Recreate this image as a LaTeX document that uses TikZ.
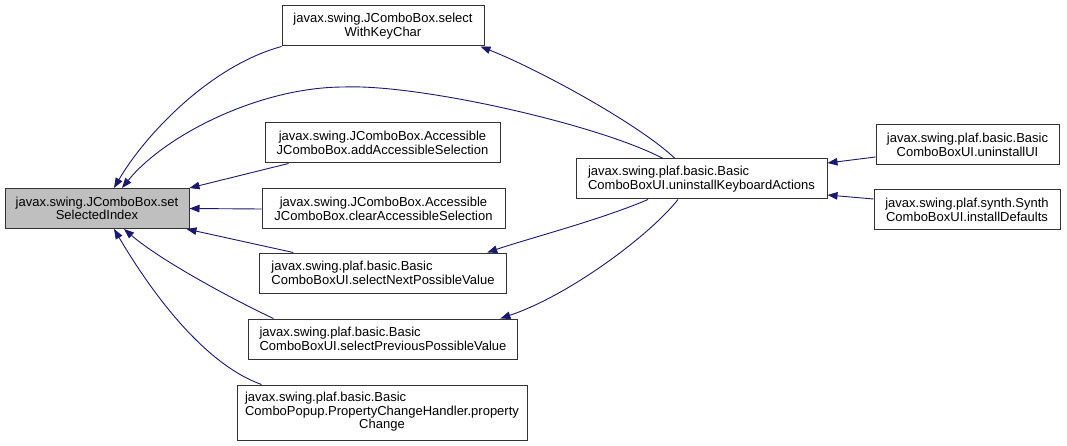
\documentclass[tikz,border=0pt]{standalone}
\usepackage{fontspec}
\setmainfont{Liberation Sans}
\usetikzlibrary{arrows.meta}
\definecolor{edgecol}{HTML}{191970}
\definecolor{setgray}{HTML}{BFBFBF}
\begin{document}
\begin{tikzpicture}[x=1pt,y=-1pt,
  box/.style={draw=black!80, line width=1pt, fill=white, inner sep=0pt,
    font=\fontsize{13}{13.5}\selectfont, minimum height=40pt},
  cbox/.style={box, align=center},
  lbox/.style={box, align=left},
  edge/.style={draw=edgecol, line width=0.9pt, -{Triangle[length=10pt,width=7.5pt]}}]
\useasboundingbox (0,0) rectangle (1067,446);
\fill[white] (0,0) rectangle (1067,446);

\node[cbox, minimum width=184pt, fill=setgray] (set) at (97,208.5) {javax.swing.JComboBox.set\\SelectedIndex};
\node[cbox, minimum width=202pt] (kc) at (383,26) {javax.swing.JComboBox.select\\WithKeyChar};
\node[cbox, minimum width=235pt] (add) at (382.5,143) {javax.swing.JComboBox.Accessible\\JComboBox.addAccessibleSelection};
\node[cbox, minimum width=243pt] (clr) at (383.5,209) {javax.swing.JComboBox.Accessible\\JComboBox.clearAccessibleSelection};
\node[lbox, minimum width=246.5pt] (nxt) at (383,273) {javax.swing.plaf.basic.Basic\\ComboBoxUI.selectNextPossibleValue};
\node[lbox, minimum width=269pt] (prv) at (383,339) {javax.swing.plaf.basic.Basic\\ComboBoxUI.selectPreviousPossibleValue};
\node[box, minimum width=290pt, minimum height=55pt] (pch) at (382,412.5) {\begin{tabular}{@{}l@{}}javax.swing.plaf.basic.Basic\\ComboPopup.PropertyChangeHandler.property\\\multicolumn{1}{@{}c@{}}{Change}\end{tabular}};
\node[lbox, minimum width=251pt] (uka) at (701.5,179) {javax.swing.plaf.basic.Basic\\ComboBoxUI.uninstallKeyboardActions};
\node[cbox, minimum width=183pt] (uui) at (967.5,145) {javax.swing.plaf.basic.Basic\\ComboBoxUI.uninstallUI};
\node[cbox, minimum width=186pt] (ind) at (967,210) {javax.swing.plaf.synth.Synth\\ComboBoxUI.installDefaults};

\draw[edge] (kc.south west) .. controls (210,66) and (145,135) .. ([xshift=17pt]set.north);
\draw[edge] ([xshift=-38.5pt]uka.north) .. controls (600,125) and (420,84) .. (344,87)
  .. controls (260,87) and (165,135) .. ([xshift=25pt]set.north);
\draw[edge] ([xshift=24pt]add.south west) -- (set.north east);
\draw[edge] (clr.west) -- (set.east);
\draw[edge] ([xshift=34pt]nxt.north west) -- ([xshift=-3pt]set.south east);
\draw[edge] ([xshift=25.4pt]prv.north west) .. controls (230,298) and (160,260) .. ([xshift=27pt]set.south);
\draw[edge] ([xshift=25pt]pch.north west) .. controls (215,368) and (165,315) .. ([xshift=17pt]set.south);
\draw[edge] ([xshift=-26.5pt]uka.north) .. controls (640,125) and (540,70) .. ([xshift=-4pt]kc.south east);
\draw[edge] ([xshift=-53.5pt]uka.south) .. controls (600,220) and (530,238) .. ([xshift=-19.5pt]nxt.north east);
\draw[edge] ([xshift=-23.5pt]uka.south) .. controls (650,235) and (570,295) .. ([xshift=-17.6pt]prv.north east);
\draw[edge] ([yshift=-12pt]uui.west) -- ([yshift=16pt]uka.east);
\draw[edge] ([yshift=11pt]ind.west) -- ([yshift=-16pt]uka.east);
\end{tikzpicture}
\end{document}
